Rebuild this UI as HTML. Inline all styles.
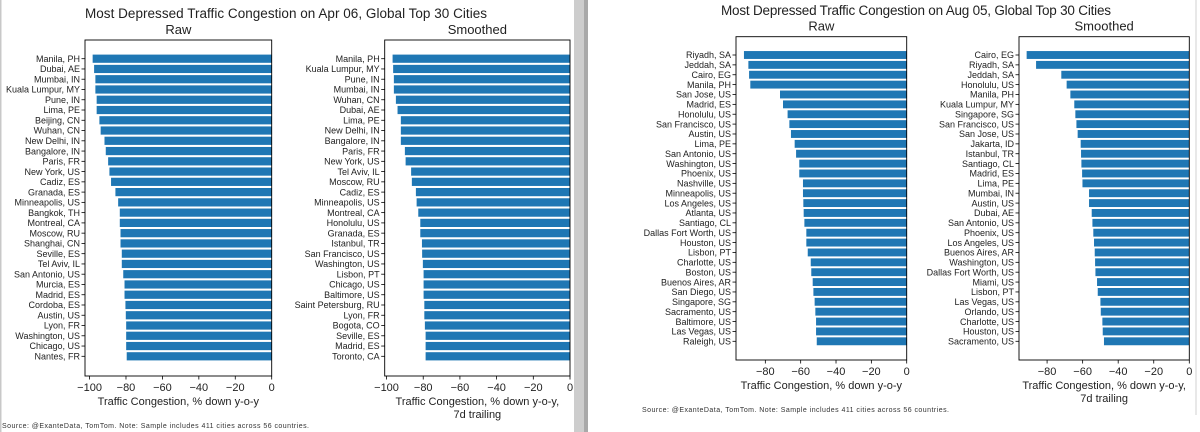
<!DOCTYPE html>
<html><head><meta charset="utf-8"><style>
html,body{margin:0;padding:0;background:#fff;}
svg{display:block;font-family:"Liberation Sans",sans-serif;}
</style></head><body>
<svg id="chart" width="1200" height="432" viewBox="0 0 1200 432" xmlns="http://www.w3.org/2000/svg">
<rect x="0" y="0" width="1200" height="432" fill="#fff"/>
<rect x="0" y="0" width="1.5" height="432" fill="#c8c8c8"/>
<rect x="574" y="0" width="10" height="432" fill="#cdcdcd"/>
<rect x="584" y="0" width="4" height="432" fill="#a9a9a9"/>
<rect x="1195.5" y="0" width="1" height="415" fill="#d0d0d0"/>
<text x="286" y="18" font-size="13.5" text-anchor="middle" textLength="402" fill="#222">Most Depressed Traffic Congestion on Apr 06, Global Top 30 Cities</text>
<text x="916" y="15" font-size="13.5" text-anchor="middle" textLength="390" fill="#222">Most Depressed Traffic Congestion on Aug 05, Global Top 30 Cities</text>
<text x="2" y="428" font-size="7" textLength="307" fill="#333">Source: @ExanteData, TomTom.   Note: Sample includes 411 cities across 56 countries.</text>
<text x="642" y="412" font-size="7" textLength="307" fill="#333">Source: @ExanteData, TomTom.   Note: Sample includes 411 cities across 56 countries.</text>
<g id="panels"></g>
</svg>
<script>
const aprRawCities = ["Manila, PH","Dubai, AE","Mumbai, IN","Kuala Lumpur, MY","Pune, IN","Lima, PE","Beijing, CN","Wuhan, CN","New Delhi, IN","Bangalore, IN","Paris, FR","New York, US","Cadiz, ES","Granada, ES","Minneapolis, US","Bangkok, TH","Montreal, CA","Moscow, RU","Shanghai, CN","Seville, ES","Tel Aviv, IL","San Antonio, US","Murcia, ES","Madrid, ES","Cordoba, ES","Austin, US","Lyon, FR","Washington, US","Chicago, US","Nantes, FR"];
const aprRawValues = [-98.3,-97.5,-96.8,-96.8,-96.1,-96.1,-94.6,-93.9,-91.8,-91.1,-89.8,-89.1,-88.2,-85.8,-84.3,-83.4,-83.4,-83.0,-83.0,-82.3,-82.3,-81.5,-80.8,-80.8,-80.3,-80.1,-79.9,-79.9,-79.9,-79.6];
const aprSmoothCities = ["Manila, PH","Kuala Lumpur, MY","Pune, IN","Mumbai, IN","Wuhan, CN","Dubai, AE","Lima, PE","New Delhi, IN","Bangalore, IN","Paris, FR","New York, US","Tel Aviv, IL","Moscow, RU","Cadiz, ES","Minneapolis, US","Montreal, CA","Honolulu, US","Granada, ES","Istanbul, TR","San Francisco, US","Washington, US","Lisbon, PT","Chicago, US","Baltimore, US","Saint Petersburg, RU","Lyon, FR","Bogota, CO","Seville, ES","Madrid, ES","Toronto, CA"];
const aprSmoothValues = [-96.7,-96.4,-96.0,-96.0,-94.9,-94.0,-92.2,-92.2,-92.2,-90.0,-89.6,-86.6,-86.2,-84.0,-83.6,-82.7,-81.6,-81.6,-80.7,-80.6,-80.2,-79.8,-79.8,-79.8,-79.4,-79.4,-79.1,-78.7,-78.7,-78.7];
const augRawCities = ["Riyadh, SA","Jeddah, SA","Cairo, EG","Manila, PH","San Jose, US","Madrid, ES","Honolulu, US","San Francisco, US","Austin, US","Lima, PE","San Antonio, US","Washington, US","Phoenix, US","Nashville, US","Minneapolis, US","Los Angeles, US","Atlanta, US","Santiago, CL","Dallas Fort Worth, US","Houston, US","Lisbon, PT","Charlotte, US","Boston, US","Buenos Aires, AR","San Diego, US","Singapore, SG","Sacramento, US","Baltimore, US","Las Vegas, US","Raleigh, US"];
const augRawValues = [-92.1,-89.6,-89.2,-88.5,-71.7,-70.0,-67.4,-66.4,-65.5,-63.4,-62.6,-60.8,-60.8,-58.7,-58.7,-58.5,-58.3,-57.9,-56.8,-56.8,-56.0,-54.3,-54.0,-53.2,-52.8,-52.1,-51.7,-51.3,-51.3,-50.9];
const augSmoothCities = ["Cairo, EG","Riyadh, SA","Jeddah, SA","Honolulu, US","Manila, PH","Kuala Lumpur, MY","Singapore, SG","San Francisco, US","San Jose, US","Jakarta, ID","Istanbul, TR","Santiago, CL","Madrid, ES","Lima, PE","Mumbai, IN","Austin, US","Dubai, AE","San Antonio, US","Phoenix, US","Los Angeles, US","Buenos Aires, AR","Washington, US","Dallas Fort Worth, US","Miami, US","Lisbon, PT","Las Vegas, US","Orlando, US","Charlotte, US","Houston, US","Sacramento, US"];
const augSmoothValues = [-91.5,-86.2,-72.0,-69.0,-66.9,-64.7,-64.1,-63.5,-62.8,-61.1,-60.9,-60.7,-60.3,-60.1,-56.4,-56.4,-54.9,-54.5,-54.0,-53.6,-53.2,-53.0,-52.8,-51.9,-51.5,-50.0,-49.8,-48.9,-48.7,-48.0];
const aprTicks = [-100,-80,-60,-40,-20,0];
const augTicks = [-80,-60,-40,-20,0];

const NS = "http://www.w3.org/2000/svg";
const root = document.getElementById('panels');
function mk(tag, attrs, parent){const e=document.createElementNS(NS,tag);for(const k in attrs)e.setAttribute(k,attrs[k]);parent.appendChild(e);return e;}

function panel(id, cities, values, ticks, g){
  const grp = mk('g',{},root);
  
  
  const xs = v => g.right + (v - 0) * (g.right - g.left) / (0 - g.xmin);
  const n = cities.length;
  const step = (g.last - g.first)/(n-1);
  const ys = i => g.first + i*step;
  const bh = step*0.8;
  cities.forEach((c,i)=>{
    const x0 = xs(values[i]);
    const r = mk('rect',{x:x0,y:ys(i)-bh/2,width:xs(0)-x0,height:bh,fill:'#1f77b4'},grp);
    
    
    mk('line',{x1:g.left-3.5,x2:g.left,y1:ys(i),y2:ys(i),stroke:'#000','stroke-width':0.8},grp);
    const t = mk('text',{x:g.left-5,y:ys(i)+3.2,'font-size':9,'text-anchor':'end',fill:'#222'},grp);
    t.textContent = c;
    
    
  });
  ticks.forEach(v=>{
    const x = xs(v);
    mk('line',{x1:x,x2:x,y1:g.bottom,y2:g.bottom+3.5,stroke:'#000','stroke-width':0.8},grp);
    const t = mk('text',{x:x,y:g.bottom+15,'font-size':11,'text-anchor':'middle',fill:'#222'},grp);
    t.textContent = v<0 ? '\u2212'+Math.abs(v) : String(v);
    
    
  });
  const box = mk('rect',{x:g.left,y:g.top,width:g.right-g.left,height:g.bottom-g.top,fill:'none',stroke:'#000','stroke-width':0.9},grp);
  
  
  const st = mk('text',{x:(g.left+g.right)/2,y:g.top-6,'font-size':13,'text-anchor':'middle',fill:'#222'},grp);
  st.textContent = g.sub;
  
  
  g.xlabel.forEach((l,k)=>{
    const t = mk('text',{x:(g.left+g.right)/2,y:g.bottom+29+k*13,'font-size':11,'text-anchor':'middle',fill:'#222'},grp);
    t.textContent = l;
    
    
  });
}
panel('apr-raw', aprRawCities, aprRawValues, aprTicks, {left:85,right:271.7,top:40,bottom:376,xmin:-102.5,first:58.7,last:356.3,sub:'Raw',xlabel:['Traffic Congestion, % down y-o-y']});
panel('apr-smoothed', aprSmoothCities, aprSmoothValues, aprTicks, {left:384.7,right:570,top:40,bottom:376,xmin:-101,first:58.7,last:356.3,sub:'Smoothed',xlabel:['Traffic Congestion, % down y-o-y,','7d trailing']});
panel('aug-raw', augRawCities, augRawValues, augTicks, {left:736,right:906.7,top:36.7,bottom:360,xmin:-96.6,first:55,last:341.3,sub:'Raw',xlabel:['Traffic Congestion, % down y-o-y']});
panel('aug-smoothed', augSmoothCities, augSmoothValues, augTicks, {left:1019,right:1189.3,top:36.7,bottom:360,xmin:-95.8,first:55,last:341.3,sub:'Smoothed',xlabel:['Traffic Congestion, % down y-o-y,','7d trailing']});
</script>
</body></html>
